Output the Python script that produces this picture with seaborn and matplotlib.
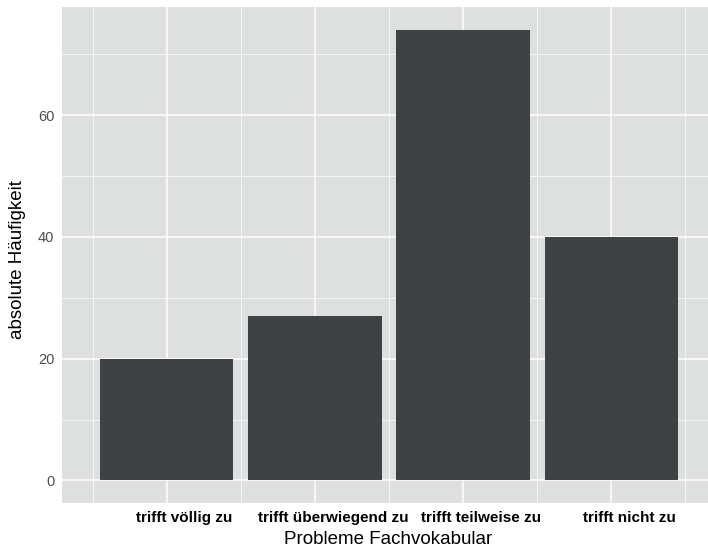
import matplotlib
matplotlib.use("Agg")
import matplotlib.pyplot as plt
import matplotlib.transforms as mtransforms
from matplotlib.ticker import FixedLocator
import seaborn as sns
import pandas as pd

categories = ["trifft völlig zu", "trifft überwiegend zu", "trifft teilweise zu", "trifft nicht zu"]
values = [20, 27, 74, 40]
y_ticks = [0, 20, 40, 60]
y_minor = [10, 30, 50, 70]
x_label = "Probleme Fachvokabular"
y_label = "absolute Häufigkeit"

sns.set_style("white")
plt.rcParams["font.family"] = ["Liberation Sans", "DejaVu Sans"]

df = pd.DataFrame({"cat": categories, "n": values})

W, H = 708, 550
fig = plt.figure(figsize=(W / 100, H / 100), dpi=100)
ax = fig.add_axes([62 / W, 47 / H, (W - 62) / W, (503 - 7.3) / H])

sns.barplot(data=df, x="cat", y="n", color="#3E4245", saturation=1, width=0.9,
            ax=ax, zorder=3, edgecolor="none")

ax.set_facecolor("#DEDFDF")
ax.set_xlim(-0.706, 3.653)
ax.set_ylim(-3.7, 77.7)
ax.set_yticks(y_ticks)
ax.yaxis.set_minor_locator(FixedLocator(y_minor))
ax.set_xticks(range(len(categories)))
ax.set_xticklabels(categories, fontweight="bold", fontsize=11, color="black")
ax.xaxis.set_minor_locator(FixedLocator([i - 0.5 for i in range(len(categories) + 1)]))

ax.grid(True, which="major", color="white", linewidth=1.1, zorder=0)
ax.grid(True, which="minor", color="white", linewidth=0.5, zorder=0)
ax.set_axisbelow(True)
for s in ax.spines.values():
    s.set_visible(False)

ax.tick_params(axis="both", which="major", length=3, width=0.9, color="#333333")
ax.tick_params(axis="x", pad=3)
ax.tick_params(axis="y", labelsize=10.5, labelcolor="#4D4D4D", pad=2.5)
ax.tick_params(which="minor", length=0)

offset = mtransforms.ScaledTranslation(18 / 100, 0, fig.dpi_scale_trans)
for lbl in ax.get_xticklabels():
    lbl.set_transform(lbl.get_transform() + offset)

ax.set_xlabel(x_label, fontsize=13.5, color="black")
ax.set_ylabel(y_label, fontsize=13.5, color="black")
ax.xaxis.label.set_va("center")
ax.yaxis.label.set_va("center")
ax.xaxis.set_label_coords(388 / W, (H - 540) / H, transform=fig.transFigure)
ax.yaxis.set_label_coords(18 / W, (H - 260) / H, transform=fig.transFigure)

fig.savefig("out.png", dpi=100)
